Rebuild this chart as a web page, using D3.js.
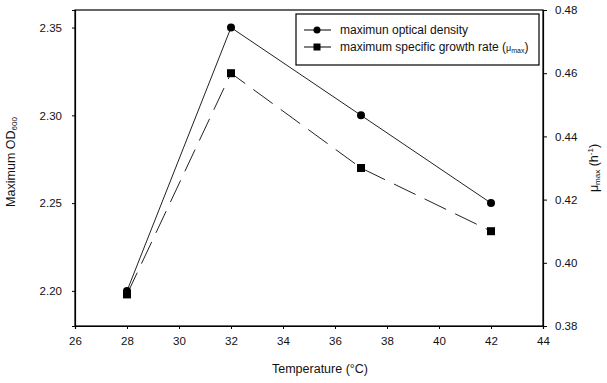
<!DOCTYPE html>
<html>
<head>
<meta charset="utf-8">
<script src="https://cdn.jsdelivr.net/npm/d3@7"></script>
<style>
  body { margin: 0; background: #fff; }
  svg { font-family: "Liberation Sans", Arial, sans-serif; }
</style>
</head>
<body>
<svg id="chart" width="607" height="383"></svg>
<script>
// data
const temps = [28, 32, 37, 42];
const maxOD = [2.20, 2.35, 2.30, 2.25];
const muMax = [0.39, 0.46, 0.43, 0.41];
const xTicks = [26, 28, 30, 32, 34, 36, 38, 40, 42, 44];
const odTicks = [2.20, 2.25, 2.30, 2.35];
const muTicks = [0.38, 0.40, 0.42, 0.44, 0.46, 0.48];

const margin = { left: 75, right: 64, top: 10, bottom: 57 };
const width = 607, height = 383;

const svg = d3.select("#chart");

const x = d3.scaleLinear().domain([26, 44]).range([margin.left, width - margin.right]);
const yL = d3.scaleLinear().domain([2.18, 2.36]).range([height - margin.bottom, margin.top]);
const yR = d3.scaleLinear().domain([0.38, 0.48]).range([height - margin.bottom, margin.top]);

// frame
svg.append("rect")
  .attr("x", margin.left).attr("y", margin.top)
  .attr("width", width - margin.left - margin.right)
  .attr("height", height - margin.top - margin.bottom)
  .attr("fill", "none").attr("stroke", "#000").attr("stroke-width", 1.2);

const styleAxis = g => {
  g.select(".domain").attr("stroke-width", 1.2);
  g.selectAll("text").attr("font-size", 11.5).attr("fill", "#111");
};

svg.append("g")
  .attr("transform", `translate(0,${height - margin.bottom})`)
  .call(d3.axisBottom(x).tickValues(xTicks).tickSize(3).tickPadding(8).tickFormat(d3.format("d")))
  .call(styleAxis);

svg.append("g")
  .attr("transform", `translate(${margin.left},0)`)
  .call(d3.axisLeft(yL).tickValues(odTicks).tickSize(3).tickPadding(10).tickFormat(d3.format(".2f")))
  .call(styleAxis);

svg.append("g")
  .attr("transform", `translate(${width - margin.right},0)`)
  .call(d3.axisRight(yR).tickValues(muTicks).tickSize(4).tickPadding(8).tickFormat(d3.format(".2f")))
  .call(styleAxis);

// series
const odLine = d3.line().x((d, i) => x(temps[i])).y(d => yL(d));
const muLine = d3.line().x((d, i) => x(temps[i])).y(d => yR(d));

svg.append("path").datum(maxOD)
  .attr("d", odLine).attr("fill", "none").attr("stroke", "#222").attr("stroke-width", 1);

svg.append("path").datum(muMax)
  .attr("d", muLine).attr("fill", "none").attr("stroke", "#222").attr("stroke-width", 1)
  .attr("stroke-dasharray", "24,10");

svg.append("g").selectAll("circle").data(maxOD).join("circle")
  .attr("cx", (d, i) => x(temps[i])).attr("cy", d => yL(d)).attr("r", 4).attr("fill", "#000");

svg.append("g").selectAll("rect").data(muMax).join("rect")
  .attr("x", (d, i) => x(temps[i]) - 4).attr("y", d => yR(d) - 4)
  .attr("width", 8).attr("height", 8).attr("fill", "#000");

// legend
const lg = svg.append("g").attr("transform", "translate(296,14)");
lg.append("rect").attr("width", 243).attr("height", 51)
  .attr("fill", "#fff").attr("stroke", "#000").attr("stroke-width", 1.2);
const items = [
  { label: "maximun optical density", shape: "circle" },
  { label: "maximum specific growth rate (", shape: "square" }
];
items.forEach((it, i) => {
  const cy = 16 + i * 17;
  lg.append("line").attr("x1", 8).attr("x2", 35).attr("y1", cy).attr("y2", cy)
    .attr("stroke", "#000").attr("stroke-width", 1);
  if (it.shape === "circle") {
    lg.append("circle").attr("cx", 21).attr("cy", cy).attr("r", 3.5).attr("fill", "#000");
  } else {
    lg.append("rect").attr("x", 17.5).attr("y", cy - 3.5).attr("width", 7).attr("height", 7).attr("fill", "#000");
  }
  const t = lg.append("text").attr("x", 44).attr("y", cy + 4).attr("font-size", 12).attr("fill", "#111");
  t.append("tspan").text(it.label);
  if (it.shape === "square") {
    t.append("tspan").attr("font-size", 9).text("μ");
    t.append("tspan").attr("font-size", 7).attr("dy", 2).text("max");
    t.append("tspan").attr("dy", -2).text(")");
  }
});

// axis titles
svg.append("text")
  .attr("x", 320).attr("y", 373)
  .attr("text-anchor", "middle").attr("font-size", 12.5).attr("fill", "#111")
  .text("Temperature (°C)");

const lt = svg.append("text")
  .attr("transform", "translate(15,162) rotate(-90)")
  .attr("text-anchor", "middle").attr("font-size", 12.5).attr("fill", "#111");
lt.append("tspan").text("Maximum OD");
lt.append("tspan").attr("font-size", 8).attr("dy", 2).text("600");

const rt = svg.append("text")
  .attr("transform", "translate(598,168) rotate(-90)")
  .attr("text-anchor", "middle").attr("font-size", 12.5).attr("fill", "#111");
rt.append("tspan").text("μ");
rt.append("tspan").attr("font-size", 8).attr("dy", 2).text("max");
rt.append("tspan").attr("dy", -2).text(" (h");
rt.append("tspan").attr("font-size", 8).attr("dy", -5).text("-1");
rt.append("tspan").attr("dy", 5).text(")");
</script>
</body>
</html>
